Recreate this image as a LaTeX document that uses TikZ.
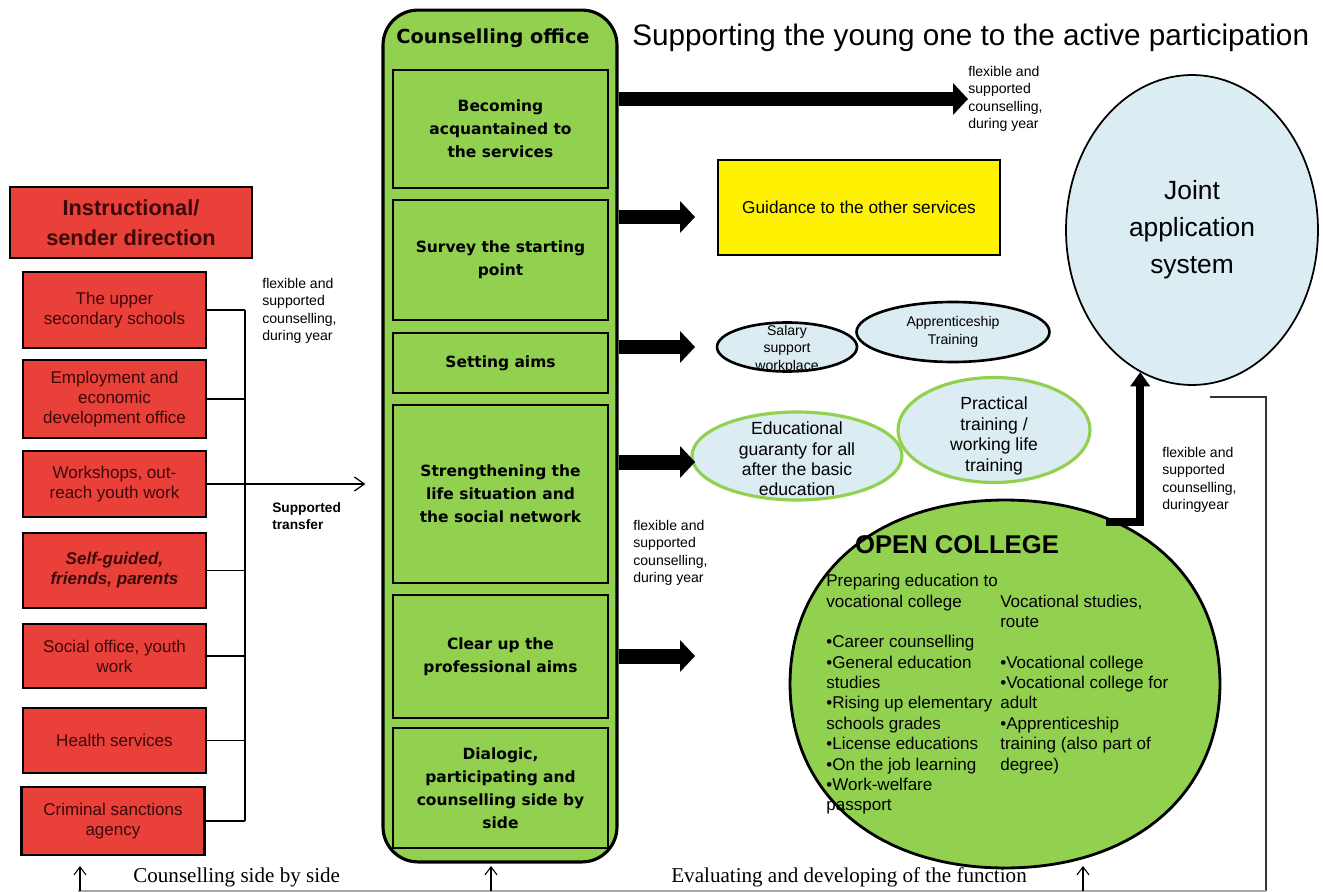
\documentclass[tikz,border=0pt]{standalone}
\usepackage{fontspec}
\setmainfont{Liberation Sans}
\newfontfamily\officefont{DejaVu Sans}
\newfontfamily\notefont{Liberation Serif}
\usetikzlibrary{arrows.meta,shapes.geometric}

\definecolor{boxred}{RGB}{233,64,58}
\definecolor{redtext}{RGB}{60,8,8}
\definecolor{officegreen}{RGB}{146,208,80}
\definecolor{paleblue}{RGB}{219,236,242}

\tikzstyle{sender} = [draw=black, line width=1.6pt, fill=boxred, text=redtext,
    align=center, minimum width=3.66cm, inner sep=2pt,
    font=\fontsize{9.7}{11.3}\selectfont]
\tikzstyle{stage} = [draw=black, line width=1.4pt, fill=officegreen, align=center,
    minimum width=4.3cm, font=\officefont\bfseries\fontsize{8.8}{13}\selectfont]
\tikzstyle{service} = [ellipse, draw=black, line width=1.5pt, fill=paleblue, inner sep=0pt]
\tikzstyle{training} = [ellipse, draw=officegreen, line width=1.8pt, fill=paleblue, inner sep=0pt]
\tikzstyle{note} = [align=left, anchor=west, inner sep=0pt, font=\fontsize{8}{10}\selectfont]
\tikzstyle{inside} = [align=center, inner sep=0pt]
\tikzstyle{link} = [line width=0.7pt]
\tikzstyle{bigarrow} = [line width=0.3cm, -{Triangle[length=0.3cm, width=0.64cm, line width=0pt]}]
\tikzstyle{uparrow} = [line width=0.6pt, -{Straight Barb[length=1.6mm, width=2.4mm]}]

\begin{document}
\begin{tikzpicture}[x=0.02cm, y=-0.02cm]
\useasboundingbox (0,0) rectangle (1323,892);

% counselling office column
\node[draw=black, line width=1.8pt, fill=officegreen, rounded corners=0.7cm,
      minimum width=4.68cm, minimum height=17.04cm] (office) at (500,436) {};
\node[font=\officefont\bfseries\fontsize{11}{13}\selectfont] (officetitle) at (493,38) {Counselling office};
\node[stage, minimum height=2.36cm] (becoming) at (500.5,129) {Becoming\\acquantained to\\the services};
\node[stage, minimum height=2.4cm] (survey) at (500.5,260) {Survey the starting\\point};
\node[stage, minimum height=1.2cm] (aims) at (500.5,363) {Setting aims};
\node[stage, minimum height=3.56cm] (network) at (500.5,494) {Strengthening the\\life situation and\\the social network};
\node[stage, minimum height=2.46cm] (professional) at (500.5,656.5) {Clear up the\\professional aims};
\node[stage, minimum height=2.4cm] (dialogic) at (500.5,788) {Dialogic,\\participating and\\counselling side by\\side};

% sending parties
\node[sender, minimum width=4.84cm, minimum height=1.42cm,
      font=\bfseries\fontsize{12.4}{17}\selectfont] (head) at (131,222.5) {Instructional/\\sender direction};
\node[sender, minimum height=1.52cm] (upper) at (114.5,310) {The upper\\secondary schools};
\node[sender, minimum height=1.56cm] (employ) at (114.5,399) {Employment and\\economic\\development office};
\node[sender, minimum height=1.32cm] (workshops) at (114.5,484) {Workshops, out-\\reach youth work};
\node[sender, minimum height=1.5cm, font=\bfseries\itshape\fontsize{9.7}{11.3}\selectfont] (self) at (114.5,570.5) {Self-guided,\\friends, parents};
\node[sender, minimum height=1.28cm] (social) at (114.5,656) {Social office, youth\\work};
\node[sender, minimum height=1.3cm] (health) at (114.5,740.5) {Health services};
\node[sender, minimum height=1.36cm] (criminal) at (113,821) {Criminal sanctions\\agency};

\coordinate (bus) at (245,0);
\foreach \n in {upper,employ,self,social,health,criminal}
  \draw[link] (\n.east) -- (\n.east -| bus);
\draw[link] (upper.east -| bus) -- (criminal.east -| bus);
\draw[link, -{Straight Barb[length=2mm, width=2.8mm]}] (workshops.east) -- ([xshift=-0.32cm]workshops.east -| office.west);

\node[note] (flexleft) at (262,311) {flexible and\\supported\\counselling,\\during year};
\node[note, font=\bfseries\fontsize{7.8}{10}\selectfont] (transfer) at (272,516) {Supported\\transfer};

% services on the right
\node[anchor=west, inner sep=0pt, font=\fontsize{16.9}{20}\selectfont] (title) at (632,38) {Supporting the young one to the active participation};
\node[note] (flextop) at (968,99) {flexible and\\supported\\counselling,\\during year};
\node[draw=black, line width=1.2pt, fill=yellow, minimum width=5.64cm, minimum height=1.9cm,
      font=\fontsize{9.8}{12}\selectfont] (guidance) at (859,207.5) {Guidance to the other services};

\node[service, line width=1pt, minimum width=5.04cm, minimum height=6.2cm] (joint) at (1192,230) {};
\node[inside, font=\fontsize{15}{21}\selectfont] (jointtext) at (joint) {Joint\\application\\system};

\node[service, minimum width=2.8cm, minimum height=0.98cm] (salary) at (787,347) {};
\node[inside, font=\fontsize{8}{9.9}\selectfont] (salarytext) at (787,349) {Salary\\support\\workplace};
\node[service, minimum width=3.86cm, minimum height=1.2cm] (apprentice) at (953,332) {};
\node[inside, font=\fontsize{8}{10.5}\selectfont] (apprenticetext) at (apprentice) {Apprenticeship\\Training};

\node[training, minimum width=4.2cm, minimum height=1.76cm] (guaranty) at (797,456) {};
\node[inside, font=\fontsize{10}{11.6}\selectfont] (guarantytext) at (797,459) {Educational\\guaranty for all\\after the basic\\education};
\node[training, minimum width=3.84cm, minimum height=2.1cm] (practical) at (994,430) {};
\node[inside, font=\fontsize{10}{11.6}\selectfont] (practicaltext) at (994,436) {Practical\\training /\\working life\\training};

% open college, a rather full oval
\node[ellipse, inner sep=0pt, outer sep=0pt, minimum width=8.6cm, minimum height=7.36cm] (college) at (1005,684) {};
\draw[line width=1.6pt, fill=officegreen]
  (college.west) .. controls +(0,-110) and +(-129,0) .. (college.north)
  .. controls +(129,0) and +(0,-110) .. (college.east)
  .. controls +(0,110) and +(129,0) .. (college.south)
  .. controls +(-129,0) and +(0,110) .. (college.west) -- cycle;
\node[font=\bfseries\fontsize{14.6}{17}\selectfont] (collegetitle) at (957,545) {OPEN COLLEGE};
\node[anchor=north west, inner sep=0pt, font=\fontsize{9.7}{11.6}\selectfont] (routes) at (826,572) {%
  \begin{tabular}{@{}p{3.48cm}@{}l@{}}
    Preparing education to & \\
    vocational college & Vocational studies, \\
     & route \\
    •Career counselling & \\
    •General education & •Vocational college \\
    studies & •Vocational college for \\
    •Rising up elementary & adult \\
    schools grades & •Apprenticeship \\
    •License educations & training (also part of \\
    •On the job learning & degree) \\
    •Work-welfare & \\
    passport &
  \end{tabular}};

\node[note] (flexmid) at (633,553) {flexible and\\supported\\counselling,\\during year};
\node[note] (flexright) at (1162,480) {flexible and\\supported\\counselling,\\duringyear};

% arrows out of the office
\coordinate (guidetip) at (695,217);
\coordinate (salarytip) at (695,347);
\coordinate (guarantytip) at (695,462);
\coordinate (collegetip) at (695,656);
\draw[bigarrow] (office.east |- flextop.west) -- (flextop.west);
\draw[bigarrow] (office.east |- guidetip) -- (guidetip);
\draw[bigarrow] (office.east |- salarytip) -- (salarytip);
\draw[bigarrow] (office.east |- guarantytip) -- (guarantytip);
\draw[bigarrow] (office.east |- collegetip) -- (collegetip);

\draw[line width=0.16cm, -{Triangle[length=0.28cm, width=0.4cm, line width=0pt]}] (college.58) -| (joint.250);

% evaluation loop
\coordinate (loopin) at (1210,397);
\coordinate (loopcorner) at (1266,891);
\coordinate (loopout) at (78,891);
\draw[line width=0.7pt, black!80] (loopin) -| (loopcorner);
\draw[line width=0.6pt, black!35] (loopcorner) -- (loopout);
\foreach \x in {80,491,1083}
  \draw[uparrow] (\x,891) -- (\x,866);

\node[anchor=west, inner sep=0pt, font=\notefont\fontsize{12}{14}\selectfont] (sidebyside) at (133,877) {Counselling side by side};
\node[anchor=west, inner sep=0pt, font=\notefont\fontsize{12}{14}\selectfont] (evaluating) at (671,877) {Evaluating and developing of the function};
\end{tikzpicture}
\end{document}
